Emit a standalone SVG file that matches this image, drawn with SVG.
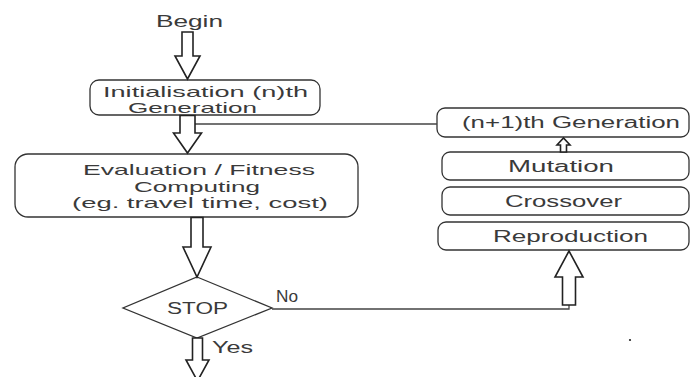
<svg xmlns="http://www.w3.org/2000/svg" width="691" height="377" viewBox="0 0 691 377">
<style>
.box{fill:#fff;stroke:#333;stroke-width:1.3}
.arr{fill:#fff;stroke:#222;stroke-width:1.6;stroke-linejoin:miter}
.ln{fill:none;stroke:#444;stroke-width:1.3}
text{font-family:"Liberation Sans","Noto Sans",sans-serif;fill:#3a3a3a;font-size:16px}
.ml{font-size:14.5px}
</style>
<rect width="691" height="377" fill="#fff"/>
<g id="begin"><text x="156" y="27" font-size="19" textLength="67" lengthAdjust="spacingAndGlyphs">Begin</text></g>
<g id="init">
<rect class="box" x="90" y="80" width="230" height="35" rx="9"/>
<text class="ml" x="103" y="96.5" textLength="205" lengthAdjust="spacingAndGlyphs">Initialisation (n)th</text>
<text class="ml" x="128" y="113" textLength="129" lengthAdjust="spacingAndGlyphs">Generation</text>
</g>
<g id="eval">
<rect class="box" x="15" y="154" width="343" height="63" rx="13"/>
<text class="ml" x="83" y="175" textLength="232" lengthAdjust="spacingAndGlyphs">Evaluation / Fitness</text>
<text class="ml" x="134" y="191.5" textLength="126" lengthAdjust="spacingAndGlyphs">Computing</text>
<text class="ml" x="72" y="208" textLength="256" lengthAdjust="spacingAndGlyphs">(eg. travel time, cost)</text>
</g>
<g id="stop">
<polygon class="box" points="197,277 272,308 197,338 123,308"/>
<text x="167" y="314" textLength="61" lengthAdjust="spacingAndGlyphs">STOP</text>
</g>
<g id="nextgen">
<rect class="box" x="437" y="108" width="252" height="29" rx="8"/>
<text x="462" y="128" textLength="218" lengthAdjust="spacingAndGlyphs">(n+1)th Generation</text>
</g>
<g id="mutation">
<rect class="box" x="442" y="152" width="247" height="28" rx="8"/>
<text x="508" y="172" textLength="106" lengthAdjust="spacingAndGlyphs">Mutation</text>
</g>
<g id="crossover">
<rect class="box" x="442" y="187" width="247" height="28" rx="8"/>
<text x="505" y="207" textLength="117" lengthAdjust="spacingAndGlyphs">Crossover</text>
</g>
<g id="reproduction">
<rect class="box" x="438" y="222" width="251" height="28" rx="8"/>
<text x="493" y="242" textLength="155" lengthAdjust="spacingAndGlyphs">Reproduction</text>
</g>
<g id="connectors">
<polygon class="arr" points="182,32 193,32 193,56 200,56 187.5,79 175,56 182,56"/>
<line class="ln" x1="195" y1="124" x2="437" y2="124"/>
<polygon class="arr" points="180,115.5 195,115.5 195,133 201.5,133 187.5,153 173.5,133 180,133"/>
<polygon class="arr" points="191,217.5 203,217.5 203,247 211,247 197,277 183,247 191,247"/>
<polygon class="arr" points="192.5,338 202.5,338 202.5,360 209,360 197.5,381 186,360 192.5,360"/>
<text x="212" y="353" textLength="41" lengthAdjust="spacingAndGlyphs">Yes</text>
<text x="276" y="302" font-size="13" textLength="22" lengthAdjust="spacingAndGlyphs">No</text>
<polyline class="ln" points="272,309 569,309 569,305"/>
<polygon class="arr" points="562.5,305 575.5,305 575.5,277 583,277 569,251 555,277 562.5,277"/>
<polygon class="arr" points="560.5,152 566.5,152 566.5,145 570,145 563.5,138 557,145 560.5,145"/>
<circle cx="630" cy="340" r="1.1" fill="#222"/>
</g>
</svg>
